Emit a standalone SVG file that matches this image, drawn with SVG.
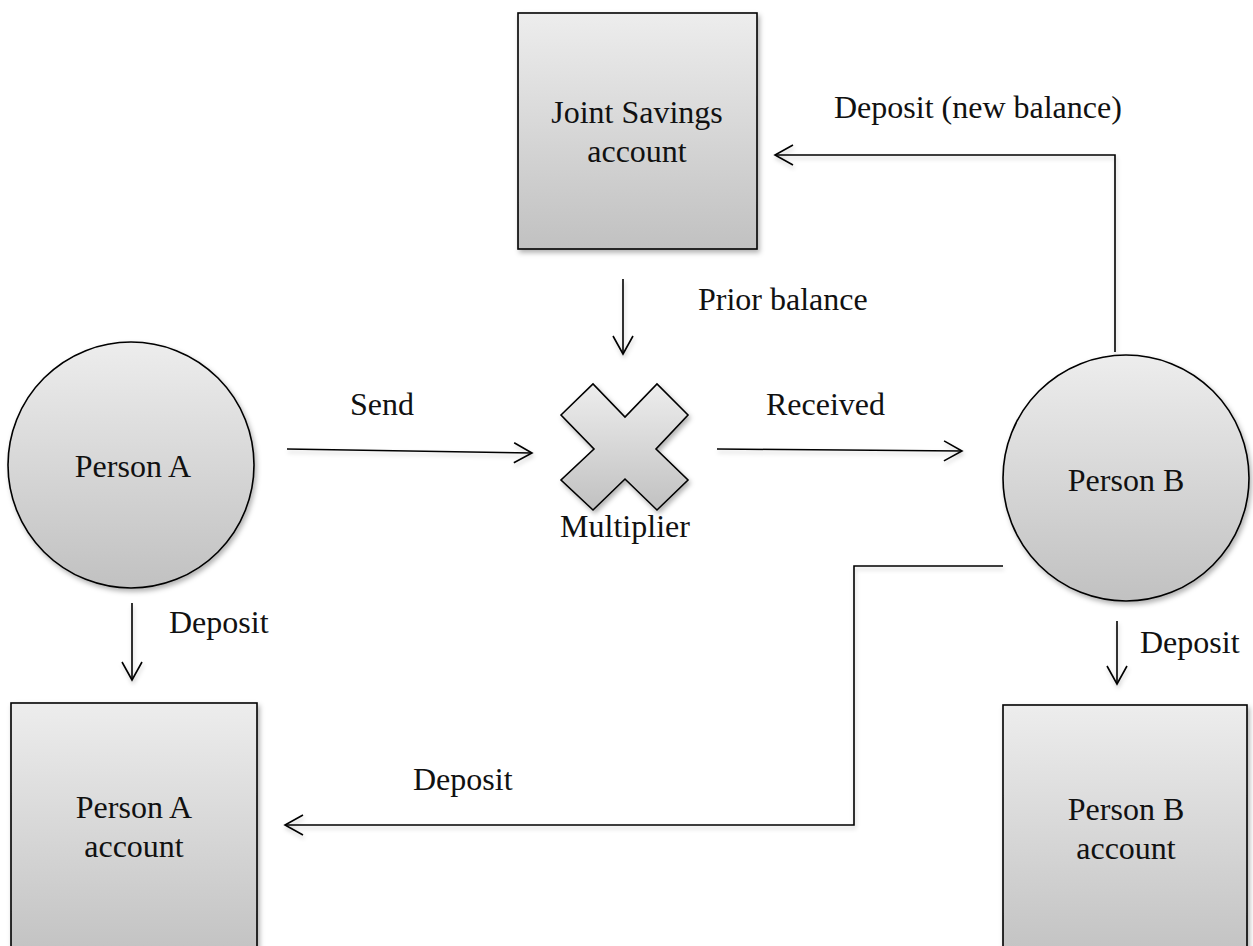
<svg xmlns="http://www.w3.org/2000/svg" width="1253" height="946" viewBox="0 0 1253 946">
  <style>
    .shape { fill: url(#grad); stroke: #000; stroke-width: 1.6; filter: url(#shadow); }
    .txt { font-family: "Liberation Serif", "Times New Roman", serif; font-size: 32px; fill: #111; }
    .mid { text-anchor: middle; }
    .conn { fill: none; stroke: #000; stroke-width: 1.6; filter: url(#lshadow); }
  </style>
  <defs>
    <linearGradient id="grad" x1="0" y1="0" x2="0" y2="1">
      <stop offset="0" stop-color="#ededed"/>
      <stop offset="1" stop-color="#c1c1c1"/>
    </linearGradient>
    <filter id="shadow" x="-10%" y="-10%" width="125%" height="125%">
      <feDropShadow dx="2" dy="3" stdDeviation="2.5" flood-color="#000" flood-opacity="0.3"/>
    </filter>
    <filter id="lshadow" filterUnits="userSpaceOnUse" x="0" y="0" width="1253" height="946">
      <feDropShadow dx="1" dy="3" stdDeviation="2" flood-color="#000" flood-opacity="0.2"/>
    </filter>
    <marker id="arrow" markerUnits="userSpaceOnUse" viewBox="-20 -12 22 24" markerWidth="22" markerHeight="24" refX="0" refY="0" orient="auto">
      <path d="M -18,-10 L 0,0 L -18,10" fill="none" stroke="#000" stroke-width="1.6"/>
    </marker>
  </defs>
  <rect width="1253" height="946" fill="#fff"/>

  <g id="connectors">
    <path class="conn" d="M 1115,352 L 1115,155 L 775,155" marker-end="url(#arrow)"/>
    <path class="conn" d="M 623,279 L 623,354" marker-end="url(#arrow)"/>
    <path class="conn" d="M 287,449 L 532,453" marker-end="url(#arrow)"/>
    <path class="conn" d="M 717,449 L 962,451" marker-end="url(#arrow)"/>
    <path class="conn" d="M 132,603 L 132,680" marker-end="url(#arrow)"/>
    <path class="conn" d="M 1117,621 L 1117,684" marker-end="url(#arrow)"/>
    <path class="conn" d="M 1003,566 L 854,566 L 854,825 L 285,825" marker-end="url(#arrow)"/>
    <text class="txt" x="834" y="118">Deposit (new balance)</text>
    <text class="txt" x="698" y="310">Prior balance</text>
    <text class="txt" x="350" y="415">Send</text>
    <text class="txt" x="766" y="415">Received</text>
    <text class="txt" x="169" y="633">Deposit</text>
    <text class="txt" x="1140" y="653">Deposit</text>
    <text class="txt" x="413" y="790">Deposit</text>
  </g>

  <g id="joint-savings">
    <rect class="shape" x="518" y="13" width="239" height="236"/>
    <text class="txt mid" x="637" y="123">Joint Savings</text>
    <text class="txt mid" x="637" y="162">account</text>
  </g>

  <g id="multiplier">
    <polygon class="shape" points="561,415 593,384 625,417 657,384 688,415 656,449 688,480 657,510 625,479 593,510 561,480 594,449"/>
    <text class="txt mid" x="625" y="537">Multiplier</text>
  </g>

  <g id="person-a">
    <circle class="shape" cx="131" cy="465" r="123"/>
    <text class="txt mid" x="133" y="477">Person A</text>
  </g>

  <g id="person-b">
    <circle class="shape" cx="1126" cy="478" r="123"/>
    <text class="txt mid" x="1126" y="491">Person B</text>
  </g>

  <g id="person-a-account">
    <rect class="shape" x="11" y="703" width="246" height="260"/>
    <text class="txt mid" x="134" y="818">Person A</text>
    <text class="txt mid" x="134" y="857">account</text>
  </g>

  <g id="person-b-account">
    <rect class="shape" x="1003" y="705" width="244" height="260"/>
    <text class="txt mid" x="1126" y="820">Person B</text>
    <text class="txt mid" x="1126" y="859">account</text>
  </g>
</svg>
